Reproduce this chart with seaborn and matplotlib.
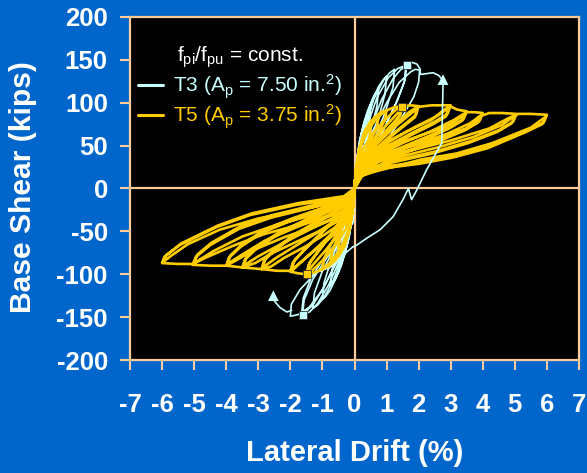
import matplotlib
matplotlib.use("Agg")
import matplotlib.pyplot as plt
import pandas as pd
import seaborn as sns
from matplotlib.lines import Line2D

BLUE = "#0066CC"
PEACH = "#FFCC99"
CYAN = "#C8FFFF"
GOLD = "#FFCC00"

# ---- T3 (Ap = 7.50 in.^2): cyclic path, one row per half cycle ----
t3_drift = [0,
    0.03, 0.1, 0.18, 0.25, 0.22, 0.14, 0.05, 0,
    -0.03, -0.1, -0.18, -0.25, -0.22, -0.14, -0.05, 0,
    0.04, 0.15, 0.3, 0.42, 0.5, 0.46, 0.34, 0.18, 0.06, 0,
    -0.04, -0.15, -0.3, -0.42, -0.5, -0.46, -0.34, -0.18, -0.06, 0,
    0.05, 0.2, 0.4, 0.6, 0.75, 0.7, 0.52, 0.3, 0.1, 0,
    -0.05, -0.2, -0.4, -0.6, -0.75, -0.7, -0.52, -0.3, -0.1, 0,
    0.05, 0.25, 0.5, 0.75, 0.9, 1.0, 0.95, 0.75, 0.45, 0.15, 0,
    -0.05, -0.25, -0.5, -0.75, -0.9, -1.0, -0.95, -0.75, -0.45, -0.15, 0,
    0.05, 0.3, 0.6, 0.9, 1.1, 1.25, 1.2, 0.95, 0.6, 0.2, 0,
    -0.05, -0.3, -0.65, -0.95, -1.15, -1.3, -1.25, -1.0, -0.6, -0.2, 0,
    0.05, 0.35, 0.7, 1.05, 1.35, 1.63, 1.58, 1.35, 0.95, 0.5, 0.15, 0,
    -0.05, -0.4, -0.8, -1.15, -1.4, -1.62, -1.57, -1.3, -0.85, -0.3, -0.05, 0,
    0.05, 0.45, 0.85, 1.2, 1.45, 1.6, 1.55, 1.3, 0.9, 0.45, 0.12, 0,
    -0.05, -0.5, -0.95, -1.3, -1.5, -1.65, -1.6, -1.35, -0.9, -0.35, -0.05, 0,
    0.05, 0.5, 1.0, 1.4, 1.75, 1.9, 2.03, 2.0, 1.85, 1.4, 0.8, 0.3, 0,
    -0.05, -0.5, -1.0, -1.4, -1.75, -2.0, -1.97, -1.7, -1.2, -0.76, -0.3, -0.05]
t3_shear = [0,
    20, 42, 55, 62, 48, 28, 10, 0,
    -20, -42, -55, -62, -48, -28, -10, 0,
    24, 55, 78, 90, 95, 78, 55, 30, 11, 0,
    -24, -54, -76, -88, -92, -76, -54, -30, -11, 0,
    26, 62, 90, 108, 116, 96, 70, 42, 15, 0,
    -28, -62, -89, -106, -113, -95, -70, -44, -20, 0,
    26, 66, 98, 119, 127, 131, 110, 82, 50, 18, 0,
    -30, -68, -98, -118, -126, -129, -110, -86, -58, -30, 0,
    25, 68, 104, 126, 135, 139, 118, 88, 56, 22, 0,
    -32, -72, -106, -127, -136, -140, -122, -96, -68, -40, 0,
    24, 68, 106, 129, 140, 144, 127, 104, 72, 40, 15, 0,
    -34, -78, -112, -134, -144, -147, -130, -106, -80, -55, -40, 0,
    22, 66, 104, 128, 139, 142, 124, 100, 68, 36, 12, 0,
    -32, -80, -115, -136, -143, -146, -128, -104, -78, -54, -38, 0,
    22, 62, 100, 124, 136, 139, 138, 124, 107, 78, 45, 18, 0,
    -34, -82, -118, -138, -147, -149, -135, -118, -98, -92, -76, -68]

# final T3 excursion toward positive drift
t3_final_drift = [-0.05, 0.07, 0.38, 0.8, 1.2, 1.51, 1.68, 1.78, 1.94, 2.25, 2.72, 2.76]
t3_final_shear = [-68, -66, -58, -48, -33, -13, 0, -13, -2, 22, 53, 120]

# T3 trailing paths ending at the arrow heads
t3_tail_pos_drift = [1.63, 1.8, 1.95, 2.05, 2.05, 2.25, 2.45, 2.62, 2.74]
t3_tail_pos_shear = [144, 147, 145, 139, 133, 134, 135, 132, 127]
t3_tail_neg_drift = [-1.96, -2.11, -2.32, -2.48, -2.53]
t3_tail_neg_shear = [-142, -144, -139, -132, -128]
t3_arrow_drift = [2.76, -2.53]
t3_arrow_shear = [127, -125]

# ---- T5 (Ap = 3.75 in.^2): cyclic path, one row per half cycle ----
t5_drift = [0,
    0.03, 0.1, 0.18, 0.25, 0.22, 0.15, 0.06, 0,
    -0.03, -0.1, -0.18, -0.25, -0.22, -0.15, -0.06, 0,
    0.04, 0.12, 0.25, 0.38, 0.5, 0.46, 0.33, 0.18, 0.06, 0,
    -0.04, -0.12, -0.25, -0.38, -0.5, -0.46, -0.33, -0.18, -0.06, 0,
    0.05, 0.15, 0.3, 0.5, 0.65, 0.75, 0.7, 0.52, 0.32, 0.13, 0,
    -0.05, -0.15, -0.3, -0.5, -0.65, -0.75, -0.7, -0.52, -0.32, -0.13, 0,
    0.05, 0.15, 0.35, 0.6, 0.82, 1.0, 0.95, 0.75, 0.45, 0.2, 0.05, 0,
    -0.05, -0.15, -0.35, -0.6, -0.82, -1.0, -0.95, -0.75, -0.45, -0.2, -0.05, 0,
    0.05, 0.2, 0.45, 0.75, 1.0, 1.25, 1.5, 1.43, 1.2, 0.85, 0.45, 0.18, 0.04, 0,
    -0.05, -0.2, -0.45, -0.75, -1.0, -1.25, -1.5, -1.43, -1.2, -0.85, -0.45, -0.18, -0.04, 0,
    0.05, 0.25, 0.6, 1.0, 1.3, 1.5, 1.75, 2.0, 1.92, 1.6, 1.1, 0.6, 0.25, 0.05, 0,
    -0.05, -0.25, -0.6, -1.0, -1.3, -1.5, -1.75, -2.0, -1.93, -1.65, -1.2, -0.75, -0.35, -0.08, 0,
    0.05, 0.3, 0.8, 1.3, 1.7, 1.95, 2.4, 3.0, 2.9, 2.5, 1.8, 1.0, 0.4, 0.1, 0,
    -0.05, -0.3, -0.8, -1.3, -1.7, -1.95, -2.4, -2.9, -2.82, -2.45, -1.9, -1.25, -0.6, -0.15, 0,
    0.05, 0.3, 0.9, 1.6, 2.4, 2.8, 2.98, 3.2, 3.5, 3.4, 3.0, 2.3, 1.4, 0.6, 0.15, 0,
    -0.05, -0.3, -0.9, -1.5, -2.2, -2.6, -2.9, -3.2, -3.5, -3.42, -3.05, -2.4, -1.6, -0.8, -0.2, 0,
    0.05, 0.35, 1.0, 2.0, 2.9, 3.35, 3.5, 3.75, 4.0, 3.9, 3.5, 2.8, 1.8, 0.8, 0.2, 0,
    -0.05, -0.3, -1.0, -1.8, -2.6, -3.1, -3.5, -3.75, -4.0, -3.92, -3.55, -2.85, -2.0, -1.0, -0.25, 0,
    0.05, 0.4, 1.3, 2.6, 3.5, 3.9, 4.2, 4.6, 5.05, 4.95, 4.5, 3.6, 2.5, 1.2, 0.3, 0,
    -0.05, -0.35, -1.2, -2.2, -3.1, -3.7, -4.0, -4.5, -5.05, -4.95, -4.5, -3.6, -2.6, -1.4, -0.3, 0,
    0.05, 0.4, 1.5, 3.0, 4.2, 4.8, 5.1, 5.5, 6.0, 5.9, 5.4, 4.2, 3.1, 2.1, 0.8, 0.2, 0,
    -0.05, -0.4, -1.5, -2.8, -3.8, -4.6, -5.05, -5.5, -6.0, -5.93, -5.45, -4.3, -3.26, -1.8, -0.35, 0,
    0.05, 0.2, 0.5, 0.9, 1.25, 1.45, 1.4, 1.15, 0.8, 0.42, 0.16, 0.03, 0,
    -0.05, -0.2, -0.5, -0.9, -1.25, -1.45, -1.4, -1.15, -0.8, -0.42, -0.16, -0.03, 0,
    0.05, 0.3, 0.7, 1.2, 1.65, 1.95, 1.88, 1.55, 1.05, 0.55, 0.22, 0.04, 0,
    -0.05, -0.3, -0.7, -1.2, -1.65, -1.96, -1.88, -1.58, -1.15, -0.7, -0.32, -0.06, 0,
    0.05, 0.45, 1.1, 1.9, 2.6, 2.93, 2.85, 2.45, 1.75, 0.95, 0.38, 0.08, 0,
    -0.05, -0.45, -1.1, -1.8, -2.45, -2.85, -2.78, -2.4, -1.85, -1.2, -0.55, -0.12, 0,
    0.05, 0.65, 1.5, 2.4, 3.1, 3.45, 3.35, 2.95, 2.25, 1.35, 0.55, 0.12, 0,
    -0.05, -0.6, -1.4, -2.2, -3.0, -3.45, -3.37, -3.0, -2.35, -1.55, -0.75, -0.18, 0,
    0.05, 0.85, 1.9, 2.9, 3.6, 3.97, 3.85, 3.45, 2.75, 1.75, 0.75, 0.18, 0,
    -0.05, -0.8, -1.8, -2.8, -3.5, -3.96, -3.87, -3.5, -2.8, -1.95, -0.95, -0.22, 0,
    0.05, 1.2, 2.6, 3.7, 4.6, 5.0, 4.9, 4.45, 3.55, 2.45, 1.15, 0.28, 0,
    -0.05, -1.1, -2.4, -3.5, -4.4, -5.0, -4.9, -4.45, -3.55, -2.55, -1.35, -0.28, 0,
    0.05, 2.1, 3.2, 4.3, 5.5, 5.97, 5.85, 5.35, 4.15, 3.05, 2.05, 0.8, 0.2, 0,
    -0.05, -1.6, -3.0, -4.2, -5.2, -5.7, -5.98, -5.88, -5.4, -4.25, -3.2, -1.75, -0.33, 0]
t5_shear = [0,
    15, 32, 41, 45, 35, 22, 9, 0,
    -15, -32, -41, -46, -36, -22, -8, 0,
    18, 40, 57, 66, 70, 56, 40, 24, 10, 0,
    -18, -40, -58, -67, -71, -56, -38, -21, -8, 0,
    22, 47, 66, 78, 82, 84, 72, 57, 39, 20, 0,
    -22, -48, -67, -79, -84, -86, -73, -57, -39, -20, 0,
    23, 45, 68, 82, 89, 91, 80, 66, 46, 27, 10, 0,
    -23, -46, -69, -84, -91, -94, -82, -66, -46, -27, -10, 0,
    23, 50, 70, 84, 91, 95, 96, 86, 76, 62, 44, 26, 10, 0,
    -23, -50, -71, -86, -94, -98, -100, -89, -77, -60, -40, -24, -9, 0,
    21, 45, 66, 82, 92, 96, 97, 96, 86, 76, 61, 44, 28, 12, 0,
    -22, -46, -67, -84, -95, -100, -99, -97, -87, -75, -58, -42, -27, -12, 0,
    20, 42, 60, 76, 89, 95, 97, 97, 87, 78, 65, 49, 33, 17, 0,
    -20, -41, -59, -74, -87, -96, -96, -94, -84, -71, -56, -42, -28, -14, 0,
    19, 38, 52, 66, 80, 92, 96, 92, 90, 81, 72, 61, 47, 33, 18, 0,
    -19, -37, -53, -67, -81, -91, -94, -93, -92, -83, -70, -54, -40, -27, -14, 0,
    18, 36, 48, 61, 73, 84, 89, 89, 88, 79, 70, 59, 46, 33, 18, 0,
    -18, -34, -48, -62, -76, -87, -92, -91, -90, -81, -68, -51, -38, -25, -13, 0,
    17, 33, 45, 58, 70, 84, 88, 88, 87, 78, 68, 55, 43, 32, 20, 0,
    -17, -31, -44, -57, -71, -84, -90, -90, -89, -80, -66, -47, -34, -23, -12, 0,
    16, 30, 42, 56, 70, 82, 87, 87, 86, 77, 68, 49, 38, 31, 25, 16, 0,
    -16, -28, -40, -53, -67, -80, -88, -88, -87, -80, -66, -45, -31, -19, -11, 0,
    15, 32, 52, 70, 84, 92, 84, 73, 59, 41, 23, 8, 0,
    -15, -32, -53, -72, -87, -96, -86, -74, -57, -37, -21, -7, 0,
    15, 34, 52, 70, 84, 93, 83, 73, 58, 41, 25, 10, 0,
    -15, -34, -52, -70, -85, -95, -84, -72, -56, -40, -25, -10, 0,
    15, 37, 55, 72, 85, 94, 84, 75, 62, 46, 30, 14, 0,
    -14, -33, -50, -66, -81, -92, -81, -68, -53, -39, -26, -12, 0,
    15, 37, 53, 67, 80, 88, 79, 70, 58, 44, 30, 15, 0,
    -14, -33, -48, -63, -79, -90, -80, -67, -51, -37, -24, -12, 0,
    14, 37, 51, 64, 76, 86, 77, 68, 57, 44, 31, 16, 0,
    -13, -31, -45, -61, -77, -88, -78, -65, -48, -35, -22, -11, 0,
    14, 35, 48, 60, 74, 85, 76, 66, 53, 41, 30, 18, 0,
    -13, -29, -42, -56, -73, -87, -77, -63, -44, -31, -20, -10, 0,
    14, 34, 41, 53, 71, 84, 75, 66, 47, 36, 29, 23, 14, 0,
    -12, -24, -35, -48, -65, -78, -86, -78, -64, -43, -29, -17, -9, 0]

# peak markers
peak_t3_drift = [1.63, -1.62]
peak_t3_shear = [144, -147.5]
peak_t5_drift = [1.47, -1.47]
peak_t5_shear = [95.5, -100]

x_ticks = list(range(-7, 8))
y_ticks = list(range(-200, 201, 50))

legend_title = r"$f_{pi}/f_{pu}$ = const."
legend_labels = [r"T3 ($A_p$ = 7.50 in.$^2$)", r"T5 ($A_p$ = 3.75 in.$^2$)"]

assert len(t3_drift) == len(t3_shear)
assert len(t5_drift) == len(t5_shear)

sns.set_style("dark", {"axes.facecolor": "black", "figure.facecolor": BLUE})
plt.rcParams["font.family"] = ["Liberation Sans", "DejaVu Sans"]
plt.rcParams["mathtext.default"] = "regular"

t3 = pd.DataFrame({"drift": t3_drift, "shear": t3_shear})
t3_final = pd.DataFrame({"drift": t3_final_drift, "shear": t3_final_shear})
t5 = pd.DataFrame({"drift": t5_drift, "shear": t5_shear})

fig = plt.figure(figsize=(5.87, 4.73), dpi=100)
fig.patch.set_facecolor(BLUE)
ax = fig.add_axes([130 / 587, 113 / 473, 449 / 587, 343 / 473])
ax.set_facecolor("black")

ax.axhline(0, color=PEACH, lw=1.6, zorder=1)
ax.axvline(0, color=PEACH, lw=1.6, zorder=1)

line_kw = dict(sort=False, estimator=None, ax=ax, solid_joinstyle="round")
sns.lineplot(data=t3, x="drift", y="shear", color=CYAN, lw=1.2, zorder=2, **line_kw)
sns.lineplot(x=t3_tail_pos_drift, y=t3_tail_pos_shear, color=CYAN, lw=1.2, zorder=2, **line_kw)
sns.lineplot(x=t3_tail_neg_drift, y=t3_tail_neg_shear, color=CYAN, lw=1.2, zorder=2, **line_kw)
sns.lineplot(data=t5, x="drift", y="shear", color=GOLD, lw=1.9, zorder=3, **line_kw)
sns.lineplot(data=t3_final, x="drift", y="shear", color=CYAN, lw=1.2, zorder=4, **line_kw)
sns.scatterplot(x=t3_arrow_drift, y=t3_arrow_shear, marker="^", s=60,
                color=CYAN, edgecolor="none", ax=ax, zorder=5)
sns.scatterplot(x=peak_t3_drift, y=peak_t3_shear, marker="s", s=28,
                color=CYAN, edgecolor="#333333", linewidth=0.6, ax=ax, zorder=6)
sns.scatterplot(x=peak_t5_drift, y=peak_t5_shear, marker="s", s=28,
                color=GOLD, edgecolor="#333333", linewidth=0.6, ax=ax, zorder=6)

ax.set_xlim(-7, 7)
ax.set_ylim(-200, 200)
ax.set_xticks(x_ticks)
ax.set_yticks(y_ticks)
ax.set_xticklabels([str(v) for v in x_ticks])
ax.set_yticklabels([str(v) for v in y_ticks])
ax.grid(False)
ax.set_xlabel("")
ax.set_ylabel("")
for sp in ax.spines.values():
    sp.set_visible(True)
    sp.set_color(PEACH)
    sp.set_linewidth(1.6)
ax.tick_params(axis="both", direction="out", length=7, width=1.5, color=PEACH,
               labelcolor="white", labelsize=18.5)
ax.tick_params(axis="x", pad=17, bottom=True)
ax.tick_params(axis="y", pad=9, left=True)
for lab in ax.get_xticklabels() + ax.get_yticklabels():
    lab.set_fontweight("bold")

fig.text(355 / 587, 1 - 453 / 473, "Lateral Drift (%)", color="white",
         fontsize=21, fontweight="bold", ha="center", va="center")
fig.text(23 / 587, 1 - 187 / 473, "Base Shear (kips)", color="white",
         fontsize=21.6, fontweight="bold", ha="center", va="center", rotation=90)

handles = [Line2D([], [], color=CYAN, lw=2.2), Line2D([], [], color=GOLD, lw=2.2)]
leg = ax.legend(handles, legend_labels, title=legend_title, loc="upper left",
                bbox_to_anchor=(8 / 449, (360 - 45) / 343), frameon=False,
                fontsize=15, title_fontsize=15, handlelength=1.2,
                handletextpad=0.5, labelspacing=0.08, borderpad=0,
                borderaxespad=0, labelcolor=[CYAN, GOLD])
leg.get_title().set_color("white")

fig.savefig("out.png", dpi=100, facecolor=BLUE)
